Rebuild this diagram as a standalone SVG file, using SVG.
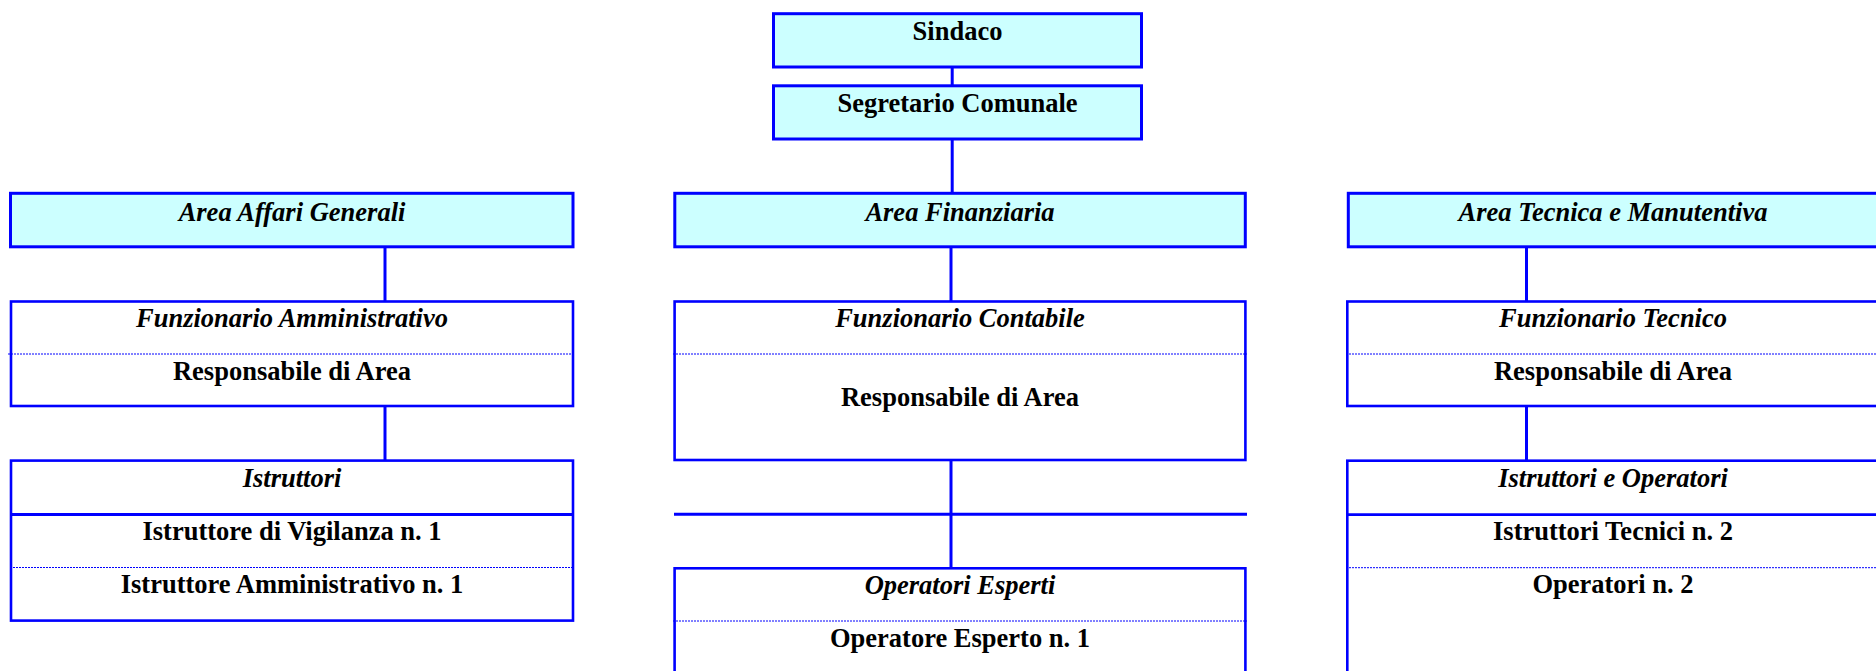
<svg xmlns="http://www.w3.org/2000/svg" width="1876" height="671" viewBox="0 0 1876 671">
<style>
.hd{fill:#CCFFFF;stroke:#0000FF;stroke-width:3}
.bx{fill:#FFFFFF;stroke:#0000FF;stroke-width:2.6}
.sep{stroke:#0000FF;stroke-width:2.8}
.dot{stroke:#0000FF;stroke-width:1;stroke-dasharray:2 1}
.cn{stroke:#0000FF;stroke-width:3;fill:none}
text{font-family:"Liberation Serif","Times New Roman",serif;font-size:26.5px;font-weight:bold;fill:#000;text-anchor:middle}
.it{font-style:italic}
</style>
<rect width="1876" height="671" fill="#FFFFFF"/>
<g id="connectors">
<line class="cn" x1="952.2" y1="67" x2="952.2" y2="86"/>
<line class="cn" x1="952.2" y1="139" x2="952.2" y2="193"/>
<line class="cn" x1="385" y1="247" x2="385" y2="302"/>
<line class="cn" x1="951" y1="247" x2="951" y2="302"/>
<line class="cn" x1="1526.5" y1="247" x2="1526.5" y2="302"/>
<line class="cn" x1="385" y1="406" x2="385" y2="461"/>
<line class="cn" x1="1526.5" y1="406" x2="1526.5" y2="461"/>
<line class="cn" x1="951" y1="460" x2="951" y2="568"/>
<line class="cn" x1="674" y1="514.3" x2="1247" y2="514.3"/>
</g>
<g id="sindaco">
<rect class="hd" x="773.5" y="13.7" width="368" height="53.3"/>
<text x="957.5" y="40">Sindaco</text>
</g>
<g id="segretario">
<rect class="hd" x="773.5" y="85.8" width="368" height="53.2"/>
<text x="957.5" y="112">Segretario Comunale</text>
</g>
<g id="area-affari-generali">
<rect class="hd" x="10.5" y="193.3" width="562.5" height="53.5"/>
<text class="it" x="292" y="221">Area Affari Generali</text>
</g>
<g id="area-finanziaria">
<rect class="hd" x="674.8" y="193.3" width="570.5" height="53.5"/>
<text class="it" x="960" y="221">Area Finanziaria</text>
</g>
<g id="area-tecnica">
<rect class="hd" x="1348.3" y="193.3" width="530" height="53.5"/>
<text class="it" x="1613" y="221">Area Tecnica e Manutentiva</text>
</g>
<g id="funzionario-amministrativo">
<rect class="bx" x="11" y="301.5" width="562" height="104.5"/>
<line class="dot" x1="8" y1="354" x2="575" y2="354"/>
<text class="it" x="292" y="327">Funzionario Amministrativo</text>
<text x="292" y="380">Responsabile di Area</text>
</g>
<g id="funzionario-contabile">
<rect class="bx" x="674.6" y="301.5" width="570.8" height="158.5"/>
<line class="dot" x1="673" y1="354" x2="1247" y2="354"/>
<text class="it" x="960" y="327">Funzionario Contabile</text>
<text x="960" y="406">Responsabile di Area</text>
</g>
<g id="funzionario-tecnico">
<rect class="bx" x="1347.3" y="301.5" width="531" height="104.5"/>
<line class="dot" x1="1346" y1="354" x2="1876" y2="354"/>
<text class="it" x="1613" y="327">Funzionario Tecnico</text>
<text x="1613" y="380">Responsabile di Area</text>
</g>
<g id="istruttori">
<rect class="bx" x="11" y="460.6" width="562" height="160"/>
<line class="sep" x1="10" y1="514.5" x2="574" y2="514.5"/>
<line class="dot" x1="10" y1="567.5" x2="574" y2="567.5"/>
<text class="it" x="292" y="487">Istruttori</text>
<text x="292" y="540">Istruttore di Vigilanza n. 1</text>
<text x="292" y="593">Istruttore Amministrativo n. 1</text>
</g>
<g id="operatori-esperti">
<rect class="bx" x="674.6" y="568.3" width="570.8" height="120"/>
<line class="dot" x1="673" y1="621" x2="1247" y2="621"/>
<text class="it" x="960" y="594">Operatori Esperti</text>
<text x="960" y="647">Operatore Esperto n. 1</text>
</g>
<g id="istruttori-operatori">
<rect class="bx" x="1347.3" y="460.7" width="531" height="230"/>
<line class="sep" x1="1346" y1="514.7" x2="1876" y2="514.7"/>
<line class="dot" x1="1346" y1="567.7" x2="1876" y2="567.7"/>
<text class="it" x="1613" y="487">Istruttori e Operatori</text>
<text x="1613" y="540">Istruttori Tecnici n. 2</text>
<text x="1613" y="593">Operatori n. 2</text>
</g>
</svg>
